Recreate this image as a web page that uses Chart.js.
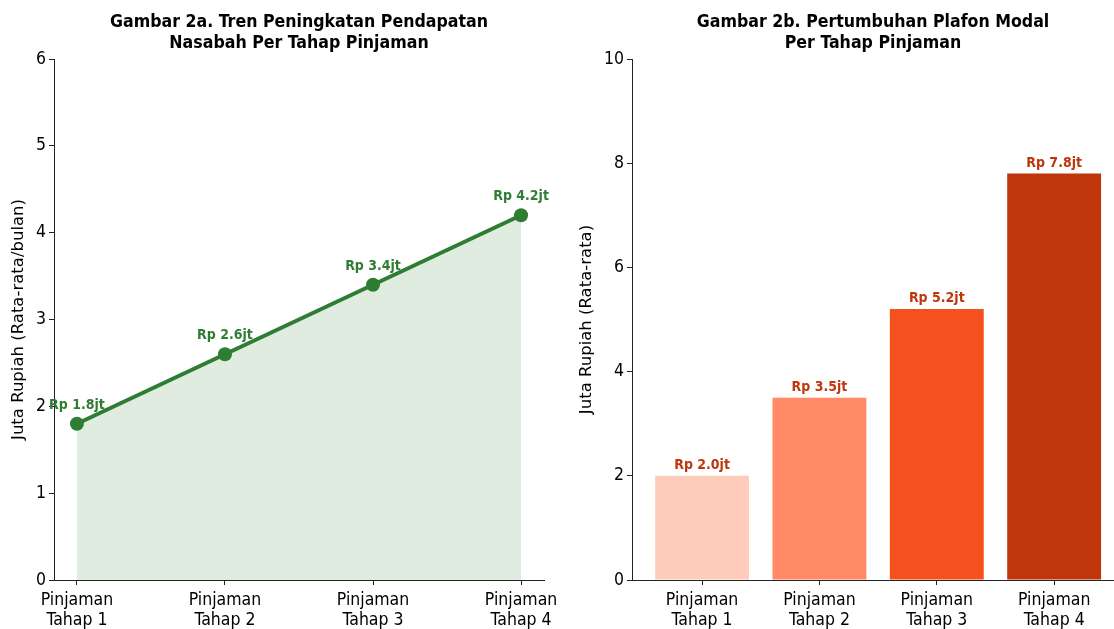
<!DOCTYPE html>
<html><head><meta charset="utf-8">
<script src="https://cdn.jsdelivr.net/npm/chart.js@4/dist/chart.umd.min.js"></script>
<style>
html,body{margin:0;padding:0;background:#fff;width:1114px;height:629px;overflow:hidden}
canvas{position:absolute;top:0}
#c1{left:0}
#c2{left:557px}
</style></head><body>
<canvas id="c1" width="600" height="629"></canvas>
<canvas id="c2" width="557" height="629"></canvas>
<script>
const categories = ["Pinjaman Tahap 1", "Pinjaman Tahap 2", "Pinjaman Tahap 3", "Pinjaman Tahap 4"];
const tickLabels = [["Pinjaman", "Tahap 1"], ["Pinjaman", "Tahap 2"], ["Pinjaman", "Tahap 3"], ["Pinjaman", "Tahap 4"]];
const incomeValues = [1.8, 2.6, 3.4, 4.2];
const capitalValues = [2.0, 3.5, 5.2, 7.8];
const barColors = ["#FFCCBC", "#FF8A65", "#F4511E", "#BF360C"];
const titleLeft = ["Gambar 2a. Tren Peningkatan Pendapatan", "Nasabah Per Tahap Pinjaman"];
const titleRight = ["Gambar 2b. Pertumbuhan Plafon Modal", "Per Tahap Pinjaman"];
const yTitleLeft = "Juta Rupiah (Rata-rata/bulan)";
const yTitleRight = "Juta Rupiah (Rata-rata)";

Chart.defaults.devicePixelRatio = 1;
const COND = '"DejaVu Sans Condensed", "DejaVu Sans", sans-serif';
const AXIS = '#222';

const valueLabels = {
  id: 'valueLabels',
  afterDatasetsDraw(chart, args, opts) {
    const ctx = chart.ctx;
    const meta = chart.getDatasetMeta(0);
    const vals = chart.data.datasets[0].data;
    ctx.save();
    ctx.font = 'bold 14px ' + COND;
    ctx.fillStyle = opts.color;
    ctx.textAlign = 'center';
    ctx.textBaseline = 'alphabetic';
    meta.data.forEach((el, i) => {
      const v = typeof vals[i] === 'object' ? vals[i].y : vals[i];
      ctx.fillText('Rp ' + v.toFixed(1) + 'jt', el.x, el.y - opts.offset);
    });
    ctx.restore();
  }
};

function xScale(min, max) {
  return {
    type: 'linear', min: min, max: max, offset: false,
    afterBuildTicks: s => { s.ticks = categories.map((c, i) => ({ value: i })); },
    afterFit: s => { s.height = 49; s.paddingLeft = 0; s.paddingRight = 0; },
    ticks: {
      autoSkip: false, maxRotation: 0, minRotation: 0, padding: 6,
      color: '#000', font: { family: COND, size: 17.5, lineHeight: 1.12 },
      callback: v => tickLabels[v] || ''
    },
    grid: { display: true, drawOnChartArea: false, drawTicks: true, tickLength: 5, color: AXIS, tickWidth: 1, offset: false },
    border: { display: true, color: AXIS, width: 1 }
  };
}
function yScale(max, step, width, title, tpad) {
  return {
    type: 'linear', min: 0, max: max,
    afterFit: s => { s.width = width; s.paddingTop = 0; s.paddingBottom = 0; },
    ticks: { stepSize: step, padding: 3, color: '#000', font: { family: COND, size: 17.5 } },
    grid: { display: true, drawOnChartArea: false, drawTicks: true, tickLength: 5, color: AXIS, tickWidth: 1 },
    border: { display: true, color: AXIS, width: 1 },
    title: { display: true, text: title, color: '#000', font: { family: '"DejaVu Sans", sans-serif', size: 16.5 }, padding: { top: tpad, bottom: 0 } }
  };
}
function titleOpt(text) {
  return {
    display: true, text: text, color: '#000', fullSize: false,
    font: { family: COND, size: 17.6, weight: 'bold', lineHeight: 21 / 17.6 },
    padding: { top: 11.5, bottom: 5.5 }
  };
}

new Chart(document.getElementById('c1'), {
  type: 'line',
  data: {
    datasets: [{
      data: incomeValues.map((v, i) => ({ x: i, y: v })),
      borderColor: '#2E7D32', borderWidth: 4, tension: 0,
      pointRadius: 7, pointHoverRadius: 7, pointBackgroundColor: '#2E7D32', pointBorderWidth: 0,
      fill: 'origin', backgroundColor: 'rgba(46,125,50,0.15)'
    }]
  },
  options: {
    responsive: false, animation: false,
    layout: { padding: { left: 0, right: 56, top: 0, bottom: 0 } },
    plugins: { legend: { display: false }, tooltip: { enabled: false }, title: titleOpt(titleLeft),
      valueLabels: { color: '#2E7D32', offset: 15 } },
    scales: { x: xScale(-0.155, 3.155), y: yScale(6, 1, 54, yTitleLeft, 9) }
  },
  plugins: [valueLabels]
});

new Chart(document.getElementById('c2'), {
  type: 'bar',
  data: {
    datasets: [{
      data: capitalValues.map((v, i) => ({ x: i, y: v })),
      backgroundColor: barColors, borderWidth: 0,
      barPercentage: 0.8, categoryPercentage: 1.0
    }]
  },
  options: {
    responsive: false, animation: false,
    layout: { padding: { left: 0, right: 0, top: 0, bottom: 0 } },
    plugins: { legend: { display: false }, tooltip: { enabled: false }, title: titleOpt(titleRight),
      valueLabels: { color: '#BF360C', offset: 7 } },
    scales: { x: xScale(-0.597, 3.51), y: yScale(10, 2, 75, yTitleRight, 20) }
  },
  plugins: [valueLabels]
});
</script>
</body></html>
